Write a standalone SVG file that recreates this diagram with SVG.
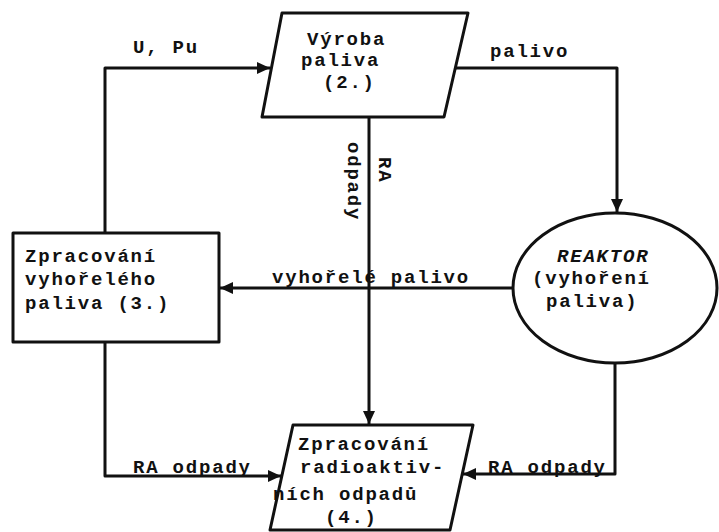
<svg xmlns="http://www.w3.org/2000/svg" width="719" height="532" viewBox="0 0 719 532">
<defs>
<style>
.shape{fill:#fff;stroke:#111;stroke-width:3;stroke-linejoin:round}
.conn{fill:none;stroke:#111;stroke-width:3;stroke-linejoin:round}
text{font-family:"Liberation Mono","DejaVu Sans Mono",monospace;font-size:19px;letter-spacing:1.8px;font-weight:bold;fill:#111}
.it{font-style:italic}
</style>
<marker id="arr" markerUnits="userSpaceOnUse" markerWidth="14" markerHeight="12" refX="13" refY="6" orient="auto">
<path d="M0,0 L13,6 L0,12 Z" fill="#111"/>
</marker>
</defs>
<rect width="719" height="532" fill="#fff"/>
<g id="connectors">
<path class="conn" d="M105,233 V68 H270" marker-end="url(#arr)"/>
<path class="conn" d="M455,68 H617 V212" marker-end="url(#arr)"/>
<path class="conn" d="M369,117 V424" marker-end="url(#arr)"/>
<path class="conn" d="M513,288 H220" marker-end="url(#arr)"/>
<path class="conn" d="M105,342 V476 H281" marker-end="url(#arr)"/>
<path class="conn" d="M615,363 V474 H463" marker-end="url(#arr)"/>
<text x="133" y="53">U, Pu</text>
<text x="490" y="57">palivo</text>
<text x="272" y="283">vyhořelé palivo</text>
<text x="133" y="473">RA odpady</text>
<text x="488" y="473">RA odpady</text>
<text transform="translate(379,157) rotate(90)">RA</text>
<text transform="translate(348,142) rotate(90)">odpady</text>
</g>
<g id="vyroba">
<polygon class="shape" points="282,13 468,13 444,117 262,117"/>
<text x="307" y="45">Výroba</text>
<text x="301" y="66">paliva</text>
<text x="323" y="88">(2.)</text>
</g>
<g id="reaktor">
<ellipse class="shape" cx="615" cy="288" rx="102" ry="75"/>
<text x="557" y="262" class="it">REAKTOR</text>
<text x="532" y="284">(vyhoření</text>
<text x="546" y="307">paliva)</text>
</g>
<g id="zpracovani-paliva">
<rect class="shape" x="13" y="233" width="206" height="109"/>
<text x="25" y="262">Zpracování</text>
<text x="25" y="285">vyhořelého</text>
<text x="25" y="309">paliva (3.)</text>
</g>
<g id="zpracovani-odpadu">
<polygon class="shape" points="293,425 473,425 450,530 270,530"/>
<text x="298" y="450">Zpracování</text>
<text x="300" y="473">radioaktiv-</text>
<text x="273" y="500">ních odpadů</text>
<text x="325" y="523">(4.)</text>
</g>
</svg>
